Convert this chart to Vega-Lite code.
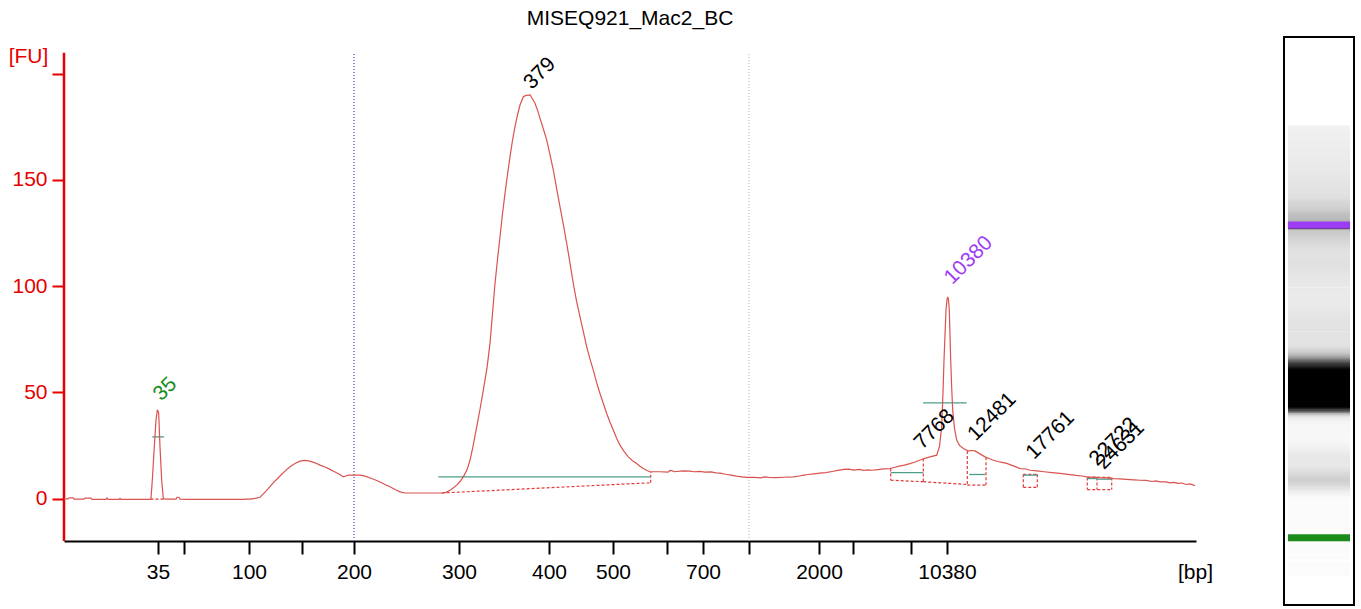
{
  "$schema": "https://vega.github.io/schema/vega-lite/v6.json",
  "autosize": {"type": "pad"},
  "padding": {"left": 8, "top": 8, "right": 4, "bottom": 2},
  "background": "white",
  "config": {
    "view": {"stroke": null},
    "font": "Liberation Sans",
    "axis": {"labelFont": "Liberation Sans", "titleFont": "Liberation Sans", "grid": false}
  },
  "datasets": {
    "trace": [
      {"t": 0, "fu": -0.2}, {"t": 4, "fu": -0.2}, {"t": 5, "fu": 0.3}, {"t": 9, "fu": 0.3}, {"t": 10, "fu": -0.3},
      {"t": 20, "fu": -0.3}, {"t": 21, "fu": 0.2}, {"t": 27, "fu": 0.2}, {"t": 28, "fu": -0.4}, {"t": 42, "fu": -0.4},
      {"t": 43, "fu": 0.2}, {"t": 44, "fu": -0.4}, {"t": 55, "fu": -0.4}, {"t": 56, "fu": 0.1}, {"t": 57, "fu": -0.4},
      {"t": 64, "fu": -0.4}, {"t": 70, "fu": -0.4}, {"t": 76, "fu": -0.4}, {"t": 82, "fu": -0.4}, {"t": 86, "fu": -0.4},
      {"t": 87, "fu": 0}, {"t": 88.3, "fu": 8.6}, {"t": 90.3, "fu": 24.3}, {"t": 92, "fu": 36.9}, {"t": 93.3, "fu": 41.5},
      {"t": 94.3, "fu": 41}, {"t": 94.7, "fu": 40}, {"t": 96, "fu": 24.3}, {"t": 97.7, "fu": 8.6}, {"t": 99.3, "fu": 0},
      {"t": 102, "fu": -0.3}, {"t": 108, "fu": -0.3}, {"t": 112, "fu": -0.3}, {"t": 113, "fu": 0.6}, {"t": 115, "fu": 0.6},
      {"t": 116, "fu": -0.3}, {"t": 123, "fu": -0.4}, {"t": 130, "fu": -0.4}, {"t": 138, "fu": -0.4}, {"t": 146, "fu": -0.4},
      {"t": 154, "fu": -0.4}, {"t": 162, "fu": -0.4}, {"t": 170, "fu": -0.4}, {"t": 177, "fu": -0.4}, {"t": 184, "fu": -0.3},
      {"t": 186, "fu": -0.3}, {"t": 191, "fu": 0.1}, {"t": 196, "fu": 0.6}, {"t": 202, "fu": 3.5}, {"t": 209, "fu": 7.2},
      {"t": 216, "fu": 10.6}, {"t": 221, "fu": 12.9}, {"t": 226, "fu": 14.9}, {"t": 231, "fu": 16.5}, {"t": 236, "fu": 17.6},
      {"t": 241, "fu": 17.9}, {"t": 246, "fu": 17.6}, {"t": 251, "fu": 16.8}, {"t": 256, "fu": 15.7}, {"t": 261, "fu": 14.8},
      {"t": 266, "fu": 13.7}, {"t": 270, "fu": 12.7}, {"t": 274, "fu": 11.8}, {"t": 277, "fu": 10.9}, {"t": 279.3, "fu": 10.2},
      {"t": 282, "fu": 10.6}, {"t": 284.3, "fu": 11.0}, {"t": 290, "fu": 11.0}, {"t": 296, "fu": 11.0}, {"t": 301, "fu": 10.5},
      {"t": 307.7, "fu": 9.4}, {"t": 312, "fu": 8.6}, {"t": 316, "fu": 7.8}, {"t": 321, "fu": 6.6}, {"t": 326, "fu": 5.5},
      {"t": 331, "fu": 4.2}, {"t": 336, "fu": 3.1}, {"t": 341, "fu": 2.6}, {"t": 348, "fu": 2.6}, {"t": 355, "fu": 2.6},
      {"t": 362, "fu": 2.6}, {"t": 370, "fu": 2.6}, {"t": 377.7, "fu": 2.6}, {"t": 382, "fu": 2.9}, {"t": 387, "fu": 4.1},
      {"t": 392.7, "fu": 6.3}, {"t": 396, "fu": 8.0}, {"t": 399.3, "fu": 10.2}, {"t": 403, "fu": 13.5}, {"t": 406, "fu": 18.0},
      {"t": 409, "fu": 24.5}, {"t": 412.7, "fu": 33.7}, {"t": 416, "fu": 42.0}, {"t": 419.3, "fu": 51.0}, {"t": 423, "fu": 61.5},
      {"t": 426, "fu": 73.0}, {"t": 428.5, "fu": 87}, {"t": 431, "fu": 101.2}, {"t": 433.5, "fu": 112.5}, {"t": 436, "fu": 123.2},
      {"t": 438.5, "fu": 134}, {"t": 441, "fu": 143.6}, {"t": 443.5, "fu": 152.5}, {"t": 446, "fu": 160.8}, {"t": 448.5, "fu": 168.5},
      {"t": 451, "fu": 175.0}, {"t": 453.5, "fu": 180.5}, {"t": 456, "fu": 185.2}, {"t": 459.3, "fu": 189.1}, {"t": 462, "fu": 189.7},
      {"t": 466, "fu": 189.9}, {"t": 468, "fu": 188.5}, {"t": 471, "fu": 186.0}, {"t": 473.5, "fu": 182.8}, {"t": 476, "fu": 178.9},
      {"t": 479, "fu": 174.5}, {"t": 482.7, "fu": 168.7}, {"t": 486, "fu": 161.8}, {"t": 489.3, "fu": 154.6}, {"t": 492.5, "fu": 146.2},
      {"t": 496, "fu": 137.3}, {"t": 499.5, "fu": 128.5}, {"t": 502.7, "fu": 120.1}, {"t": 506, "fu": 110.8}, {"t": 509.3, "fu": 101.2},
      {"t": 512.5, "fu": 93.0}, {"t": 516, "fu": 85.5}, {"t": 519.5, "fu": 78.2}, {"t": 522.7, "fu": 71.4}, {"t": 526, "fu": 65.6},
      {"t": 529.3, "fu": 60.4}, {"t": 532.5, "fu": 54.8}, {"t": 536, "fu": 49.4}, {"t": 539.5, "fu": 44.5}, {"t": 542.7, "fu": 40.0},
      {"t": 546, "fu": 35.9}, {"t": 549.3, "fu": 32.2}, {"t": 552.5, "fu": 28.5}, {"t": 556, "fu": 25.1}, {"t": 560, "fu": 22.2},
      {"t": 564.3, "fu": 19.6}, {"t": 568.5, "fu": 17.8}, {"t": 572.7, "fu": 16.5}, {"t": 576, "fu": 15.2}, {"t": 579.3, "fu": 14.1},
      {"t": 583, "fu": 13.2}, {"t": 586.7, "fu": 12.5}, {"t": 590, "fu": 12.6}, {"t": 596, "fu": 12.6}, {"t": 604, "fu": 12.4},
      {"t": 606, "fu": 13.2}, {"t": 608, "fu": 13.1}, {"t": 610, "fu": 12.6}, {"t": 619, "fu": 13.0}, {"t": 626, "fu": 12.9},
      {"t": 630, "fu": 12.6}, {"t": 636, "fu": 12.8}, {"t": 641, "fu": 12.4}, {"t": 647, "fu": 12.5}, {"t": 652, "fu": 12.1},
      {"t": 656, "fu": 11.9}, {"t": 661.7, "fu": 11.4}, {"t": 667, "fu": 11.0}, {"t": 672.4, "fu": 10.5}, {"t": 678, "fu": 10.2},
      {"t": 683, "fu": 9.9}, {"t": 690, "fu": 9.9}, {"t": 697, "fu": 9.7}, {"t": 700, "fu": 10.2}, {"t": 704.6, "fu": 9.9},
      {"t": 712, "fu": 9.8}, {"t": 720, "fu": 10.0}, {"t": 729.6, "fu": 10.2}, {"t": 735, "fu": 10.6}, {"t": 740, "fu": 11.0},
      {"t": 743.9, "fu": 11.3}, {"t": 750, "fu": 11.6}, {"t": 756, "fu": 11.9}, {"t": 761.7, "fu": 12.2}, {"t": 768, "fu": 12.7},
      {"t": 774, "fu": 13.2}, {"t": 779.6, "fu": 13.7}, {"t": 785, "fu": 13.8}, {"t": 790, "fu": 13.4}, {"t": 795, "fu": 13.7},
      {"t": 800, "fu": 13.2}, {"t": 804, "fu": 13.5}, {"t": 808.1, "fu": 13.3}, {"t": 814, "fu": 13.6}, {"t": 820, "fu": 13.9},
      {"t": 826, "fu": 14.1}, {"t": 830, "fu": 14.6}, {"t": 835, "fu": 15.2}, {"t": 840.3, "fu": 15.7}, {"t": 846, "fu": 16.4},
      {"t": 851, "fu": 17.2}, {"t": 855, "fu": 17.9}, {"t": 860, "fu": 18.8}, {"t": 866, "fu": 19.6}, {"t": 872.7, "fu": 20.4},
      {"t": 875.5, "fu": 24.5}, {"t": 877.7, "fu": 33.7}, {"t": 879, "fu": 50}, {"t": 880, "fu": 65.1}, {"t": 881, "fu": 77},
      {"t": 882, "fu": 88.7}, {"t": 883, "fu": 93.5}, {"t": 883.7, "fu": 94.9}, {"t": 884.5, "fu": 93.5}, {"t": 885.3, "fu": 88.7},
      {"t": 886, "fu": 77}, {"t": 886.7, "fu": 65.1}, {"t": 887.7, "fu": 52}, {"t": 888.7, "fu": 41.6}, {"t": 890.5, "fu": 33},
      {"t": 892.7, "fu": 27.5}, {"t": 895.5, "fu": 25}, {"t": 899.3, "fu": 23.5}, {"t": 904.3, "fu": 22.4}, {"t": 908, "fu": 22.6},
      {"t": 911, "fu": 22.4}, {"t": 916, "fu": 21.0}, {"t": 921, "fu": 19.6}, {"t": 925, "fu": 18.8}, {"t": 929.3, "fu": 18.0},
      {"t": 934, "fu": 17.4}, {"t": 938, "fu": 17.0}, {"t": 942.7, "fu": 16.5}, {"t": 948, "fu": 15.6}, {"t": 952, "fu": 14.9},
      {"t": 956, "fu": 14.1}, {"t": 962, "fu": 13.9}, {"t": 966, "fu": 13.3}, {"t": 972.7, "fu": 13.0}, {"t": 980, "fu": 12.6},
      {"t": 988, "fu": 12.2}, {"t": 996, "fu": 11.8}, {"t": 1004, "fu": 11.4}, {"t": 1012, "fu": 10.9}, {"t": 1018, "fu": 10.6},
      {"t": 1022.7, "fu": 10.2}, {"t": 1030, "fu": 10.1}, {"t": 1036, "fu": 9.8}, {"t": 1042, "fu": 9.7}, {"t": 1049.3, "fu": 9.4},
      {"t": 1056, "fu": 9.2}, {"t": 1062, "fu": 9.0}, {"t": 1070, "fu": 8.8}, {"t": 1076, "fu": 8.6}, {"t": 1082, "fu": 8.5},
      {"t": 1088, "fu": 8.0}, {"t": 1092, "fu": 8.3}, {"t": 1096, "fu": 7.8}, {"t": 1102, "fu": 7.8}, {"t": 1106, "fu": 7.4},
      {"t": 1110, "fu": 7.6}, {"t": 1114, "fu": 7.1}, {"t": 1118, "fu": 7.3}, {"t": 1122, "fu": 6.6}, {"t": 1126, "fu": 6.9},
      {"t": 1129.4, "fu": 6.3}, {"t": 1131, "fu": 6.2}
    ],
    "peaks": [
      {"size": "35", "t": 93.1, "fu": 42.5, "kind": "lower"},
      {"size": "379", "t": 463.4, "fu": 189.2, "kind": "peak"},
      {"size": "10380", "t": 884, "fu": 97.4, "kind": "upper"},
      {"size": "7768", "t": 854, "fu": 19.7, "kind": "peak"},
      {"size": "12481", "t": 907.4, "fu": 23.7, "kind": "peak"},
      {"size": "17761", "t": 965.7, "fu": 15.0, "kind": "peak"},
      {"size": "22722", "t": 1029, "fu": 11.9, "kind": "peak"},
      {"size": "24631", "t": 1035.7, "fu": 10.3, "kind": "peak"}
    ],
    "widths": [
      {"t": 88.3, "t2": 100, "fu": 29.0},
      {"t": 374.3, "t2": 586.7, "fu": 10.2},
      {"t": 859, "t2": 902.7, "fu": 45.0},
      {"t": 826.7, "t2": 859.3, "fu": 12.2},
      {"t": 905.3, "t2": 921, "fu": 11.3},
      {"t": 959.3, "t2": 973.3, "fu": 11.0},
      {"t": 1023.3, "t2": 1033, "fu": 9.4},
      {"t": 1033, "t2": 1047.7, "fu": 9.1}
    ],
    "bases": [
      {"t": 86.5, "fu": -0.3, "t2": 100, "fu2": -0.3},
      {"t": 377.7, "fu": 2.6, "t2": 586.7, "fu2": 7.4},
      {"t": 586.7, "fu": 7.4, "t2": 586.7, "fu2": 12.5},
      {"t": 826.7, "fu": 14.1, "t2": 826.7, "fu2": 8.6},
      {"t": 826.7, "fu": 8.6, "t2": 859.3, "fu2": 7.9},
      {"t": 859.3, "fu": 18.8, "t2": 859.3, "fu2": 7.9},
      {"t": 859.3, "fu": 7.9, "t2": 903.3, "fu2": 6.6},
      {"t": 903.3, "fu": 22.4, "t2": 903.3, "fu2": 6.3},
      {"t": 903.3, "fu": 6.3, "t2": 922, "fu2": 6.3},
      {"t": 922, "fu": 19.4, "t2": 922, "fu2": 6.3},
      {"t": 959.3, "fu": 11.4, "t2": 959.3, "fu2": 5.2},
      {"t": 959.3, "fu": 5.2, "t2": 973.3, "fu2": 5.2},
      {"t": 973.3, "fu": 11.4, "t2": 973.3, "fu2": 5.2},
      {"t": 959.3, "fu": 11.4, "t2": 973.3, "fu2": 11.4},
      {"t": 1023.3, "fu": 9.9, "t2": 1023.3, "fu2": 4.2},
      {"t": 1023.3, "fu": 4.2, "t2": 1047.7, "fu2": 4.2},
      {"t": 1033, "fu": 9.9, "t2": 1033, "fu2": 4.2},
      {"t": 1047.7, "fu": 9.9, "t2": 1047.7, "fu2": 4.2},
      {"t": 1023.3, "fu": 9.9, "t2": 1047.7, "fu2": 9.9}
    ],
    "regions": [
      {"t": 0, "edge": "start"},
      {"t": 290, "edge": "lower"},
      {"t": 685, "edge": "upper"}
    ]
  },
  "bounds": "flush",
  "spacing": 88,
  "hconcat": [
    {
      "title": {
        "text": "MISEQ921_Mac2_BC",
        "fontSize": 21,
        "fontWeight": "normal",
        "color": "black",
        "anchor": "middle",
        "baseline": "alphabetic",
        "offset": -9
      },
      "width": 1132,
      "height": 504,
      "layer": [
        {
          "data": {"name": "regions"},
          "mark": {"type": "rule"},
          "encoding": {
            "x": {"field": "t", "type": "quantitative", "title": "[bp]"},
            "y": {"datum": -20, "type": "quantitative"},
            "y2": {"datum": 209.8},
            "stroke": {
              "field": "edge",
              "type": "nominal",
              "scale": {"domain": ["start", "lower", "upper"], "range": ["#e60000", "#7c7cc8", "#aaaad4"]},
              "legend": null
            },
            "strokeWidth": {
              "field": "edge",
              "type": "nominal",
              "scale": {"domain": ["start", "lower", "upper"], "range": [2.5, 1, 1]},
              "legend": null
            },
            "strokeDash": {
              "field": "edge",
              "type": "nominal",
              "scale": {"domain": ["start", "lower", "upper"], "range": [[1, 0], [1, 2], [1, 2]]},
              "legend": null
            }
          }
        },
        {
          "data": {"name": "bases"},
          "mark": {"type": "rule", "strokeDash": [3, 2], "strokeWidth": 1.2, "color": "#e23a3a"},
          "encoding": {
            "x": {"field": "t", "type": "quantitative", "title": "[bp]"},
            "y": {"field": "fu", "type": "quantitative", "title": "[FU]"},
            "x2": {"field": "t2", "title": "[bp]"},
            "y2": {"field": "fu2", "title": "[FU]"}
          }
        },
        {
          "data": {"name": "widths"},
          "mark": {"type": "rule", "strokeWidth": 1.3, "color": "#4e9c8a"},
          "encoding": {
            "x": {"field": "t", "type": "quantitative", "title": "[bp]"},
            "y": {"field": "fu", "type": "quantitative", "title": "[FU]"},
            "x2": {"field": "t2", "title": "[bp]"}
          }
        },
        {
          "data": {"name": "trace"},
          "mark": {"type": "line", "strokeWidth": 1.2, "color": "#d9534f"},
          "encoding": {
            "x": {
              "field": "t",
              "type": "quantitative",
              "title": "[bp]",
              "scale": {"domain": [0, 1132], "nice": false, "zero": false},
              "axis": {
                "values": [94, 120, 185, 238, 290, 395, 485, 549, 603, 639, 685, 755, 789, 847, 883],
                "labelExpr": "datum.value == 94 ? '35' : datum.value == 185 ? '100' : datum.value == 290 ? '200' : datum.value == 395 ? '300' : datum.value == 485 ? '400' : datum.value == 549 ? '500' : datum.value == 639 ? '700' : datum.value == 755 ? '2000' : datum.value == 883 ? '10380' : ''",
                "domainColor": "black",
                "domainWidth": 2,
                "tickColor": "black",
                "tickWidth": 2,
                "tickSize": 13,
                "labelColor": "black",
                "labelFontSize": 21,
                "labelPadding": 7,
                "labelFlush": false,
                "labelOverlap": false,
                "titleFontSize": 21,
                "titleFontWeight": "normal",
                "titleColor": "black",
                "titleX": 1131,
                "titleY": 31,
                "titleAlign": "center",
                "titleBaseline": "middle"
              }
            },
            "y": {
              "field": "fu",
              "type": "quantitative",
              "title": "[FU]",
              "scale": {"domain": [-20, 217.2], "nice": false, "zero": false},
              "axis": {
                "values": [0, 50, 100, 150, 200],
                "labelExpr": "datum.value == 200 ? '' : datum.label",
                "domain": false,
                "tickColor": "#e60000",
                "tickWidth": 2,
                "tickSize": 12,
                "labelColor": "#e60000",
                "labelFontSize": 21,
                "labelPadding": 5,
                "titleColor": "#e60000",
                "titleFontSize": 21,
                "titleFontWeight": "normal",
                "titleAngle": 0,
                "titleX": -36,
                "titleY": 19,
                "titleAlign": "center",
                "titleBaseline": "middle"
              }
            }
          }
        },
        {
          "data": {"name": "peaks"},
          "mark": {"type": "text", "angle": 315, "align": "left", "baseline": "alphabetic", "dx": 7.5, "dy": -1.5, "fontSize": 21},
          "encoding": {
            "x": {"field": "t", "type": "quantitative", "title": "[bp]"},
            "y": {"field": "fu", "type": "quantitative", "title": "[FU]"},
            "text": {"field": "size"},
            "color": {
              "field": "kind",
              "type": "nominal",
              "scale": {"domain": ["lower", "peak", "upper"], "range": ["#1b8c1b", "#000000", "#9d3cf5"]},
              "legend": null
            }
          }
        }
      ]
    },
    {
      "width": 70,
      "height": 568,
      "view": {"stroke": "black", "strokeWidth": 2},
      "layer": [
        {
          "data": {"name": "trace"},
          "mark": {"type": "rule", "strokeWidth": 3.5},
          "encoding": {
            "y": {
              "field": "t",
              "type": "quantitative",
              "scale": {"domain": [-76.8, 1359], "nice": false, "zero": false},
              "axis": null
            },
            "x": {"datum": 0.057, "type": "quantitative", "scale": {"domain": [0, 1], "nice": false}, "axis": null},
            "x2": {"datum": 0.943},
            "stroke": {
              "field": "fu",
              "type": "quantitative",
              "scale": {
                "domain": [0, 8, 14, 22, 45, 75],
                "range": ["#fbfbfb", "#eeeeee", "#e0e0e0", "#c0c0c0", "#4a4a4a", "#000000"],
                "clamp": true,
                "interpolate": "rgb"
              },
              "legend": null
            }
          }
        },
        {
          "data": {"name": "peaks"},
          "transform": [{"filter": "datum.kind != 'peak'"}],
          "mark": {"type": "rule", "strokeWidth": 7},
          "encoding": {
            "y": {"field": "t", "type": "quantitative"},
            "x": {"datum": 0.057, "type": "quantitative"},
            "x2": {"datum": 0.943},
            "color": {
              "field": "kind",
              "type": "nominal",
              "scale": {"domain": ["lower", "upper"], "range": ["#0b870b", "#9b3ff8"]},
              "legend": null
            }
          }
        }
      ]
    }
  ]
}
